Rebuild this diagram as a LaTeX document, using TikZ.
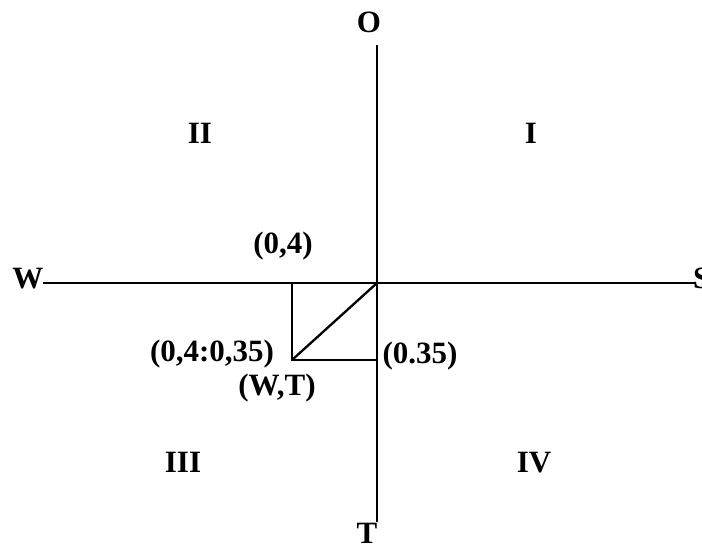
\documentclass[tikz,border=0pt]{standalone}
\usepackage{fontspec}
\setmainfont{Liberation Serif}
\usetikzlibrary{positioning,calc}

\tikzset{
  lbl/.style={inner sep=0pt, font=\fontsize{31}{37}\selectfont\bfseries},
  axis/.style={line width=2.5pt},
  part/.style={line width=2.3pt}
}

\begin{document}
\begin{tikzpicture}[x=1pt, y=-1pt]
  \useasboundingbox (0,0) rectangle (702,549);
  % axis ends and corner points
  \coordinate (top) at (377,45);
  \coordinate (bot) at (377,522);
  \coordinate (lft) at (43,283);
  \coordinate (rgt) at (695,283);
  \coordinate (orig) at (377,283);
  \coordinate (up) at (292,283);
  \coordinate (pt) at (292,360);
  \coordinate (rt) at (377,360);

  % axis labels
  \node[lbl] (o) at (369,22) {O};
  \node[lbl] (t) at (367,533) {T};
  \node[lbl] (w) at (28,279) {W};
  \node[lbl, anchor=west] (s) at (693,278) {S};

  % quadrants
  \node[lbl] (q1) at (531,133) {I};
  \node[lbl] (q2) at (200,133) {II};
  \node[lbl] (q3) at (183,462) {III};
  \node[lbl] (q4) at (534,463) {IV};

  % point labels
  \node[lbl] (a) at (283,246) {(0,4)};
  \node[lbl] (b) at (212,354) {(0,4:0,35)};
  \node[lbl] (c) at (420,356) {(0.35)};
  \node[lbl] (wt) at (277,388) {(W,T)};

  \draw[axis] (top) -- (bot);
  \draw[axis] (lft) -- (rgt);
  \draw[part] (up) -- (pt) -- (rt);
  \draw[part] (pt) -- (orig);
\end{tikzpicture}
\end{document}
